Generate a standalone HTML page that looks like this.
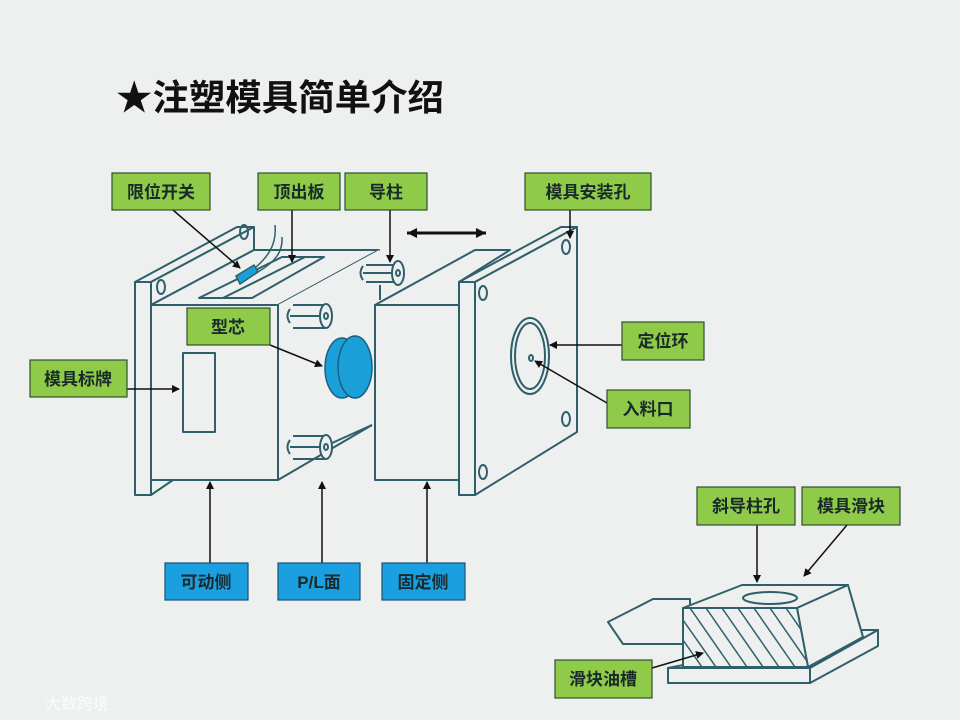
<!DOCTYPE html>
<html><head><meta charset="utf-8"><style>
html,body{margin:0;padding:0;background:#eef0f0;}
svg{display:block}
text{font-family:"Liberation Sans","Noto Sans CJK SC",sans-serif;}
</style></head><body>
<svg width="960" height="720" viewBox="0 0 960 720" xmlns="http://www.w3.org/2000/svg">
<defs>
<marker id="a" markerWidth="8" markerHeight="8" refX="7" refY="4" orient="auto" markerUnits="userSpaceOnUse"><path d="M0,0 L8,4 L0,8 z" fill="#111"/></marker>
<marker id="as" markerWidth="10" markerHeight="10" refX="0" refY="5" orient="auto" markerUnits="userSpaceOnUse"><path d="M10,0 L0,5 L10,10 z" fill="#111"/></marker>
<marker id="ae" markerWidth="10" markerHeight="10" refX="10" refY="5" orient="auto" markerUnits="userSpaceOnUse"><path d="M0,0 L10,5 L0,10 z" fill="#111"/></marker>
</defs>
<rect width="960" height="720" fill="#eef0f0"/>
<text x="116" y="110" font-size="36" font-weight="bold" fill="#111" textLength="328" lengthAdjust="spacingAndGlyphs">★注塑模具简单介绍</text>

<g fill="#eef0f0" stroke="#2f5f6b" stroke-width="2" stroke-linejoin="round">
<!-- moving back plate -->
<polygon points="135,282 237,227 254,227 151,282"/>
<polygon points="151,282 254,227 254,250 151,305"/>
<polygon points="135,282 151,282 151,495 135,495"/>
<polyline points="151,495 173,480" fill="none"/>
<!-- moving block -->
<polygon points="151,305 254,250 379,250 278,305"/>
<polygon points="278,305 379,250 372,425 278,480" stroke="none"/>
<polyline points="278,480 372,425" fill="none"/>
<rect x="151" y="305" width="127" height="175"/>
<rect x="183" y="353" width="32" height="79"/>
<!-- ejector slot -->
<polygon points="199,298 282,257 324,257 252,298" fill="none"/>
<line x1="223" y1="298" x2="305" y2="257"/>
<!-- fixed block -->
<polygon points="375,305 475,250 510,250 459,282 459,305"/>
<rect x="375" y="305" width="84" height="175"/>
<!-- fixed plate -->
<polygon points="459,282 475,282 577,227 561,227"/>
<polygon points="475,282 577,227 577,432 475,495"/>
<rect x="459" y="282" width="16" height="213"/>
</g>
<g fill="none" stroke="#2f5f6b" stroke-width="2">
<ellipse cx="483" cy="293" rx="4" ry="7"/><ellipse cx="566" cy="247" rx="4" ry="7"/>
<ellipse cx="566" cy="419" rx="4" ry="7"/><ellipse cx="483" cy="472" rx="4" ry="7"/>
<ellipse cx="244" cy="232" rx="4" ry="7"/><ellipse cx="161" cy="287" rx="4" ry="7"/>
<ellipse cx="530" cy="356" rx="19" ry="38"/><ellipse cx="530" cy="356" rx="15" ry="33"/>
<ellipse cx="531" cy="358" rx="2" ry="3"/>
<!-- pillars -->
<path d="M363,266 q-5,7 0,14 M363,273 h34 M366,265 h32 M366,282 h32"/>
<ellipse cx="398" cy="273" rx="6" ry="12" fill="#eef0f0"/><ellipse cx="398" cy="273" rx="2" ry="3"/>
<line x1="380" y1="285" x2="380" y2="300"/>
<path d="M290,309 q-5,7 0,14 M290,316 h34 M293,305 h32 M293,328 h32"/>
<ellipse cx="326" cy="316" rx="6" ry="12" fill="#eef0f0"/><ellipse cx="326" cy="316" rx="2" ry="3"/>
<path d="M290,440 q-5,7 0,14 M290,447 h34 M293,436 h32 M293,459 h32"/>
<ellipse cx="326" cy="447" rx="6" ry="12" fill="#eef0f0"/><ellipse cx="326" cy="447" rx="2" ry="3"/>
<line x1="332" y1="443" x2="372" y2="425"/>
<!-- wires -->
<path d="M275,225 C277,245 268,258 250,272 M282,237 C283,252 275,262 258,272" stroke="#2f5f6b" stroke-width="1.5"/>
</g>
<!-- blue switch -->
<polygon points="236,276 254,265 258,272 240,284" fill="#1aa0d8" stroke="#2f5f6b" stroke-width="1.5"/>
<!-- blue disc -->
<ellipse cx="342" cy="368" rx="17" ry="30" fill="#1aa0d8" stroke="#1a5f80" stroke-width="1.5"/>
<ellipse cx="355" cy="367" rx="17" ry="31" fill="#1aa0d8" stroke="#1a5f80" stroke-width="1.5"/>

<!-- slider -->
<g fill="#eef0f0" stroke="#2f5f6b" stroke-width="2" stroke-linejoin="round">
<polygon points="608,622 653,599 690,599 690,644 623,644"/>
<polygon points="668,668 863,630 878,630 810,668"/>
<polygon points="810,668 878,630 878,646 810,683"/>
<rect x="668" y="668" width="142" height="15"/>
<polygon points="683,608 742,585 848,585 797,608"/>
<polygon points="797,608 848,585 863,637 808,667"/>
<polygon points="683,608 797,608 808,667 683,667"/>
<ellipse cx="770" cy="598" rx="27" ry="6"/>
</g>
<clipPath id="c"><polygon points="683,608 797,608 808,667 683,667"/></clipPath>
<g clip-path="url(#c)" stroke="#2f5f6b" stroke-width="1.5">
<line x1="683" y1="620" x2="716" y2="667"/><line x1="683" y1="640" x2="702" y2="667"/>
<line x1="690" y1="608" x2="731" y2="667"/><line x1="706" y1="608" x2="747" y2="667"/>
<line x1="722" y1="608" x2="763" y2="667"/><line x1="738" y1="608" x2="779" y2="667"/>
<line x1="754" y1="608" x2="795" y2="667"/><line x1="770" y1="608" x2="811" y2="667"/>
<line x1="786" y1="608" x2="827" y2="667"/>
</g>

<!-- arrows -->
<g stroke="#111" stroke-width="1.5" fill="none" marker-end="url(#a)">
<line x1="173" y1="210" x2="240" y2="268"/>
<line x1="292" y1="210" x2="292" y2="262"/>
<line x1="390" y1="210" x2="390" y2="262"/>
<line x1="570" y1="210" x2="570" y2="238"/>
<line x1="270" y1="345" x2="322" y2="366"/>
<line x1="127" y1="389" x2="179" y2="389"/>
<line x1="622" y1="345" x2="550" y2="345"/>
<line x1="607" y1="403" x2="535" y2="361"/>
<line x1="210" y1="563" x2="210" y2="482"/>
<line x1="322" y1="563" x2="322" y2="482"/>
<line x1="427" y1="563" x2="427" y2="482"/>
<line x1="757" y1="525" x2="757" y2="582"/>
<line x1="847" y1="525" x2="804" y2="576"/>
<line x1="652" y1="668" x2="703" y2="653"/>
</g>
<line x1="407" y1="233" x2="486" y2="233" stroke="#111" stroke-width="3" marker-start="url(#as)" marker-end="url(#ae)"/>

<!-- labels -->
<g stroke="#2f4f2f" stroke-width="1.2" fill="#8fcb48">
<rect x="112" y="173" width="98" height="37"/>
<rect x="258" y="173" width="82" height="37"/>
<rect x="345" y="173" width="82" height="37"/>
<rect x="525" y="173" width="126" height="37"/>
<rect x="187" y="308" width="83" height="37"/>
<rect x="30" y="360" width="97" height="37"/>
<rect x="622" y="322" width="82" height="38"/>
<rect x="607" y="390" width="83" height="38"/>
<rect x="697" y="487" width="98" height="38"/>
<rect x="802" y="487" width="98" height="38"/>
<rect x="555" y="660" width="97" height="38"/>
</g>
<g stroke="#1f4f6f" stroke-width="1.2" fill="#1aa0e0">
<rect x="165" y="563" width="83" height="37"/>
<rect x="278" y="563" width="82" height="37"/>
<rect x="382" y="563" width="83" height="37"/>
</g>
<g font-size="17" fill="#1a2a2a" text-anchor="middle" font-weight="bold">
<text x="161" y="198">限位开关</text>
<text x="299" y="198">顶出板</text>
<text x="386" y="198">导柱</text>
<text x="588" y="198">模具安装孔</text>
<text x="228" y="333">型芯</text>
<text x="78" y="385">模具标牌</text>
<text x="663" y="347">定位环</text>
<text x="648" y="415">入料口</text>
<text x="746" y="512">斜导柱孔</text>
<text x="851" y="512">模具滑块</text>
<text x="603" y="685">滑块油槽</text>
<text x="206" y="588">可动侧</text>
<text x="319" y="588">P/L面</text>
<text x="423" y="588">固定侧</text>
</g>
<text x="45" y="709" font-size="16" fill="#fff" opacity="0.8">大数跨境</text>
</svg>
</body></html>
